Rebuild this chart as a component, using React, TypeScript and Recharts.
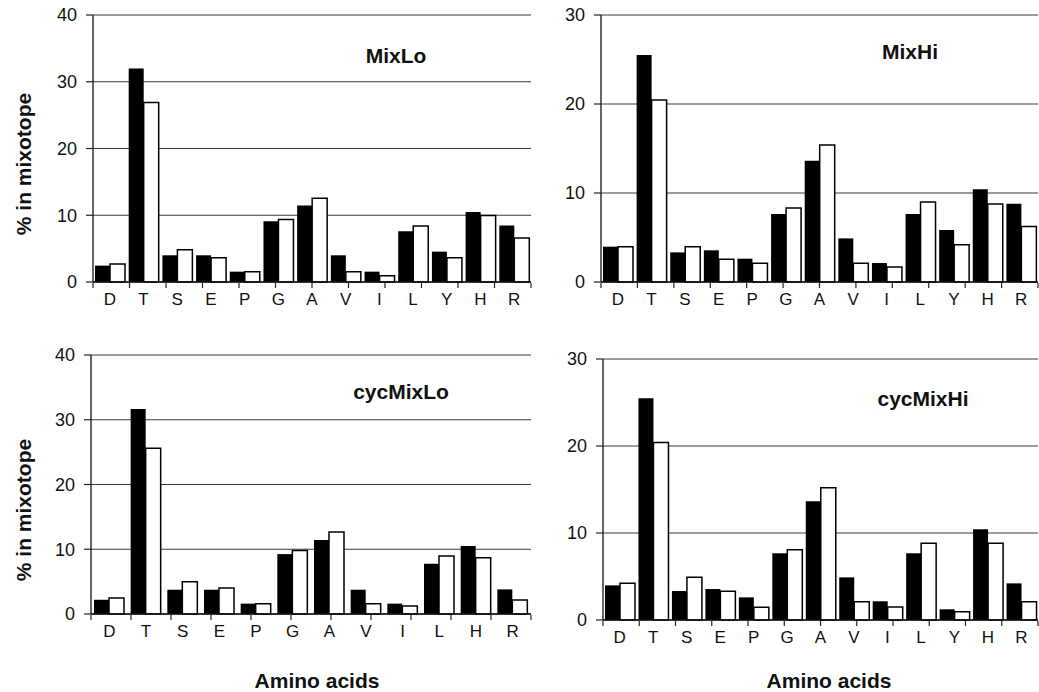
import React from 'react';
import { BarChart, Bar, XAxis, YAxis, CartesianGrid } from 'recharts';

const categories13 = ['D', 'T', 'S', 'E', 'P', 'G', 'A', 'V', 'I', 'L', 'Y', 'H', 'R'];
const categories12 = ['D', 'T', 'S', 'E', 'P', 'G', 'A', 'V', 'I', 'L', 'H', 'R'];

const mixLoBlack = [2.45, 32.0, 4.0, 4.0, 1.55, 9.1, 11.45, 4.0, 1.55, 7.6, 4.55, 10.5, 8.45];
const mixLoWhite = [2.7, 26.9, 4.85, 3.65, 1.55, 9.35, 12.55, 1.55, 0.95, 8.4, 3.65, 9.95, 6.6];
const mixHiBlack = [3.97, 25.5, 3.33, 3.56, 2.62, 7.64, 13.63, 4.9, 2.13, 7.64, 5.84, 10.41, 8.8];
const mixHiWhite = [3.97, 20.45, 3.97, 2.55, 2.1, 8.31, 15.39, 2.1, 1.69, 8.99, 4.19, 8.76, 6.25];
const cycLoBlack = [2.2, 31.67, 3.75, 3.75, 1.6, 9.25, 11.41, 3.75, 1.6, 7.76, 10.49, 3.8];
const cycLoWhite = [2.47, 25.6, 4.99, 4.0, 1.6, 9.82, 12.65, 1.6, 1.23, 8.95, 8.69, 2.15];
const cycHiBlack = [3.98, 25.5, 3.33, 3.56, 2.6, 7.66, 13.64, 4.9, 2.15, 7.66, 1.23, 10.42, 4.21];
const cycHiWhite = [4.21, 20.4, 4.9, 3.3, 1.46, 8.08, 15.2, 2.1, 1.49, 8.81, 0.96, 8.81, 2.1];

const yTicks40 = [0, 10, 20, 30, 40];
const yTicks30 = [0, 10, 20, 30];

const FONT = '"Liberation Sans", Arial, Helvetica, sans-serif';

type Box = { x: number; y: number; w: number; h: number };
type Plot = { x0: number; x1: number; y0: number; y1: number };

function Panel(props: {
  box: Box;
  plot: Plot;
  yMax: number;
  yTicks: number[];
  cats: string[];
  black: number[];
  white: number[];
}) {
  const { box, plot, yMax, yTicks, cats, black, white } = props;
  const data = cats.map((c, i) => ({ cat: c, a: black[i], b: white[i] }));
  const YW = 60;
  const LH = 1; // category (label) axis height
  const EH = 29; // edge tick axis height
  const margin = {
    top: plot.y0 - box.y,
    bottom: box.y + box.h - plot.y1 - LH - EH,
    left: plot.x0 - box.x - YW,
    right: box.x + box.w - plot.x1,
  };
  const edgeTicks = cats.map((_, i) => i).concat([cats.length]);
  return (
    <div style={{ position: 'absolute', left: box.x, top: box.y }}>
      <BarChart width={box.w} height={box.h} data={data} margin={margin} barGap={0} barSize={15}>
        <CartesianGrid vertical={false} stroke="#3a3a3a" strokeWidth={1.2} />
        <XAxis
          dataKey="cat"
          height={LH}
          tickLine={false}
          axisLine={{ stroke: '#111', strokeWidth: 1.3 }}
          tickSize={0}
          tickMargin={11}
          interval={0}
          tick={{ fontSize: 17, fill: '#111', fontFamily: FONT }}
        />
        <XAxis
          xAxisId="edge"
          type="number"
          domain={[0, cats.length]}
          ticks={edgeTicks}
          allowDataOverflow
          height={EH}
          tickFormatter={() => ''}
          tickSize={5}
          axisLine={false}
          tickLine={{ stroke: '#222', strokeWidth: 1.2 }}
          interval={0}
        />
        <YAxis
          domain={[0, yMax]}
          ticks={yTicks}
          width={YW}
          interval={0}
          tickSize={7}
          tickMargin={9}
          axisLine={{ stroke: '#111', strokeWidth: 1.3 }}
          tickLine={{ stroke: '#222', strokeWidth: 1.2 }}
          tick={{ fontSize: 18, fill: '#111', fontFamily: FONT }}
        />
        <YAxis
          yAxisId="r"
          orientation="right"
          domain={[0, yMax]}
          width={0}
          tick={false}
          tickLine={false}
          axisLine={{ stroke: '#222', strokeWidth: 1.3 }}
        />
        <Bar dataKey="a" fill="#000" isAnimationActive={false} />
        <Bar dataKey="b" fill="#fff" stroke="#000" strokeWidth={1.5} isAnimationActive={false} />
      </BarChart>
    </div>
  );
}

function Txt(props: { x: number; y: number; size: number; rotate?: boolean; children: React.ReactNode }) {
  const { x, y, size, rotate, children } = props;
  return (
    <div
      style={{
        position: 'absolute',
        left: x,
        top: y,
        transform: `translate(-50%, -50%)${rotate ? ' rotate(-90deg)' : ''}`,
        fontFamily: FONT,
        fontWeight: 'bold',
        fontSize: size,
        lineHeight: `${size}px`,
        whiteSpace: 'nowrap',
        color: '#111',
      }}
    >
      {children}
    </div>
  );
}

export default function App() {
  return (
    <div style={{ position: 'absolute', left: 0, top: 0, width: 1039, height: 692, background: '#fff', overflow: 'hidden' }}>
      <Panel
        box={{ x: 0, y: 0, w: 540, h: 330 }}
        plot={{ x0: 93, x1: 531, y0: 15, y1: 282 }}
        yMax={40}
        yTicks={yTicks40}
        cats={categories13}
        black={mixLoBlack}
        white={mixLoWhite}
      />
      <Panel
        box={{ x: 540, y: 0, w: 499, h: 330 }}
        plot={{ x0: 601, x1: 1038, y0: 15, y1: 282 }}
        yMax={30}
        yTicks={yTicks30}
        cats={categories13}
        black={mixHiBlack}
        white={mixHiWhite}
      />
      <Panel
        box={{ x: 0, y: 335, w: 540, h: 320 }}
        plot={{ x0: 91, x1: 531, y0: 355, y1: 614 }}
        yMax={40}
        yTicks={yTicks40}
        cats={categories12}
        black={cycLoBlack}
        white={cycLoWhite}
      />
      <Panel
        box={{ x: 540, y: 335, w: 499, h: 320 }}
        plot={{ x0: 603, x1: 1038, y0: 359, y1: 620 }}
        yMax={30}
        yTicks={yTicks30}
        cats={categories13}
        black={cycHiBlack}
        white={cycHiWhite}
      />
      <Txt x={396} y={55} size={21}>MixLo</Txt>
      <Txt x={910} y={51} size={21}>MixHi</Txt>
      <Txt x={401} y={391} size={21}>cycMixLo</Txt>
      <Txt x={923} y={398} size={21}>cycMixHi</Txt>
      <Txt x={23} y={164} size={21} rotate>% in mixotope</Txt>
      <Txt x={23} y={510} size={21} rotate>% in mixotope</Txt>
      <Txt x={317} y={680} size={21}>Amino acids</Txt>
      <Txt x={829} y={680} size={21}>Amino acids</Txt>
    </div>
  );
}
